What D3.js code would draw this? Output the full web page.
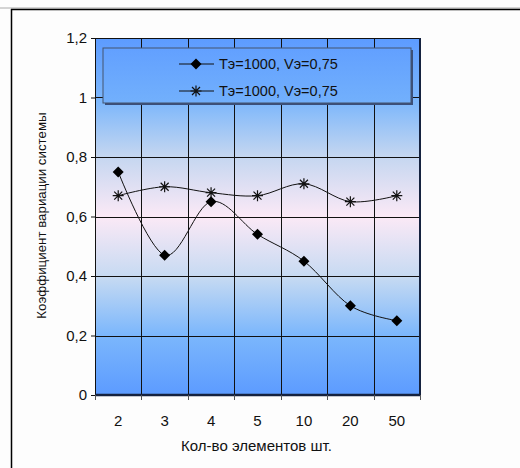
<!DOCTYPE html>
<html>
<head>
<meta charset="utf-8">
<script src="https://cdn.jsdelivr.net/npm/d3@7"></script>
<style>
  body { margin: 0; background: #fdfdfd; }
  text { font-family: "Liberation Sans", Arial, sans-serif; fill: #111; }
</style>
</head>
<body>
<div id="chart"></div>
<script>
// categories and series
const categories = ["2", "3", "4", "5", "10", "20", "50"]
const series1 = [0.75, 0.47, 0.65, 0.54, 0.45, 0.30, 0.25]
const series2 = [0.67, 0.70, 0.68, 0.67, 0.71, 0.65, 0.67]
const seriesNames = ["Тэ=1000, Vэ=0,75", "Тэ=1000, Vэ=0,75"]
const yTicks = [0, 0.2, 0.4, 0.6, 0.8, 1, 1.2]
const xTitle = "Кол-во элементов шт."
const yTitle = "Коэффициент вариации системы"

const W = 520, H = 468
const margin = { left: 95, top: 38, right: 100, bottom: 73 }
const width = W - margin.left - margin.right
const height = H - margin.top - margin.bottom

const svg = d3.select("#chart").append("svg")
  .attr("width", W).attr("height", H)

// outer frame (top and left)
svg.append("line").attr("x1", 0).attr("x2", W).attr("y1", 8).attr("y2", 8)
  .attr("stroke", "#aaa")
svg.append("line").attr("x1", 11).attr("x2", W).attr("y1", 9.5).attr("y2", 9.5)
  .attr("stroke", "#000").attr("stroke-width", 1.5)
svg.append("line").attr("x1", 11.5).attr("x2", 11.5).attr("y1", 9).attr("y2", H)
  .attr("stroke", "#000").attr("stroke-width", 1.5)

const defs = svg.append("defs")
const grad = defs.append("linearGradient").attr("id", "bg")
  .attr("x1", 0).attr("x2", 0).attr("y1", 0).attr("y2", 1)
const stops = [[0, "#5c9bff"], [0.18, "#7db7fb"], [0.33, "#c4d6f0"], [0.5, "#fbe9f6"], [0.67, "#c6daf2"], [0.83, "#7cb7fc"], [1, "#5c9bff"]]
stops.forEach(s => grad.append("stop").attr("offset", s[0]).attr("stop-color", s[1]))

const lgrad = defs.append("linearGradient").attr("id", "lg")
  .attr("x1", 0).attr("x2", 0).attr("y1", 0).attr("y2", 1)
lgrad.append("stop").attr("offset", 0).attr("stop-color", "#62a0ff")
lgrad.append("stop").attr("offset", 1).attr("stop-color", "#72b0fc")

const g = svg.append("g").attr("transform", `translate(${margin.left},${margin.top})`)

const x = d3.scaleBand().domain(categories).range([0, width])
const y = d3.scaleLinear().domain([0, 1.2]).range([height, 0])

g.append("rect").attr("width", width).attr("height", height).attr("fill", "url(#bg)")

// gridlines
g.selectAll(".hgrid").data(yTicks.slice(1)).enter().append("line")
  .attr("x1", 0).attr("x2", width)
  .attr("y1", d => Math.round(y(d)) + 0.5).attr("y2", d => Math.round(y(d)) + 0.5)
  .attr("stroke", "#111").attr("stroke-width", 1)
g.selectAll(".vgrid").data(categories.slice(1)).enter().append("line")
  .attr("x1", d => Math.round(x(d)) + 0.5).attr("x2", d => Math.round(x(d)) + 0.5)
  .attr("y1", 0).attr("y2", height)
  .attr("stroke", "#111").attr("stroke-width", 1)

// plot border
g.append("line").attr("x1", width).attr("x2", width).attr("y1", 0).attr("y2", height)
  .attr("stroke", "#15223f").attr("stroke-width", 2)

// axes
const yAxis = g.append("g").call(d3.axisLeft(y).tickValues(yTicks).tickSize(4)
  .tickFormat(d => String(d).replace(".", ",")))
yAxis.select(".domain").attr("stroke", "#111")
yAxis.selectAll(".tick line").attr("stroke", "#111")
yAxis.selectAll("text").attr("font-size", 15).attr("x", -8)
  .style("font-family", "Liberation Sans, Arial, sans-serif")

const xAxis = g.append("g").attr("transform", `translate(0,${height})`)
  .call(d3.axisBottom(x).tickSize(0).tickPadding(20))
xAxis.select(".domain").remove()
xAxis.selectAll("text").attr("font-size", 15)
  .style("font-family", "Liberation Sans, Arial, sans-serif")
g.append("line").attr("x1", 0).attr("x2", width).attr("y1", height).attr("y2", height)
  .attr("stroke", "#15223f").attr("stroke-width", 2.5)
g.selectAll(".xtick").data(categories.concat(["end"])).enter().append("line")
  .attr("x1", (d, i) => Math.round(i * x.bandwidth()) + 0.5)
  .attr("x2", (d, i) => Math.round(i * x.bandwidth()) + 0.5)
  .attr("y1", height).attr("y2", height + 5)
  .attr("stroke", "#555")

// axis titles
svg.append("text").attr("x", margin.left + width / 2 - 1).attr("y", 451)
  .attr("text-anchor", "middle").attr("font-size", 15).text(xTitle)
svg.append("text").attr("transform", `translate(46,${margin.top + height / 2 - 1}) rotate(-90)`)
  .attr("text-anchor", "middle").attr("font-size", 13.3).text(yTitle)

// lines
const line = d3.line()
  .x((d, i) => x(categories[i]) + x.bandwidth() / 2)
  .y(d => y(d))
  .curve(d3.curveCatmullRom.alpha(0))

g.append("path").datum(series1).attr("d", line)
  .attr("fill", "none").attr("stroke", "#111").attr("stroke-width", 1)
g.append("path").datum(series2).attr("d", line)
  .attr("fill", "none").attr("stroke", "#111").attr("stroke-width", 1)

const diamond = "M0,-5.5L5.5,0L0,5.5L-5.5,0Z"
function star(sel) {
  sel.append("path").attr("d", "M-5.5,0H5.5M0,-5.5V5.5M-4,-4L4,4M-4,4L4,-4")
    .attr("stroke", "#111").attr("stroke-width", 1.2).attr("fill", "none")
}

g.selectAll(".m1").data(series1).enter().append("path")
  .attr("transform", (d, i) => `translate(${x(categories[i]) + x.bandwidth() / 2},${y(d)})`)
  .attr("d", diamond).attr("fill", "#000")
g.selectAll(".m2").data(series2).enter().append("g")
  .attr("transform", (d, i) => `translate(${x(categories[i]) + x.bandwidth() / 2},${y(d)})`)
  .call(star)

// legend
const lg = svg.append("g").attr("transform", "translate(103,48)")
lg.append("rect").attr("x", 2).attr("y", 2).attr("width", 308).attr("height", 55).attr("fill", "#3a4f7a")
lg.append("rect").attr("width", 308).attr("height", 55).attr("fill", "url(#lg)")
  .attr("stroke", "#44546e").attr("stroke-width", 1)
const rows = lg.selectAll(".row").data(seriesNames).enter().append("g")
  .attr("transform", (d, i) => `translate(0,${16 + i * 27})`)
rows.append("line").attr("x1", 76).attr("x2", 111).attr("stroke", "#111")
rows.filter((d, i) => i === 0).append("path").attr("transform", "translate(93,0)")
  .attr("d", diamond).attr("fill", "#000")
rows.filter((d, i) => i === 1).append("g").attr("transform", "translate(93,0)").call(star)
rows.append("text").attr("x", 116).attr("y", 5).attr("font-size", 14.5).text(d => d)
</script>
</body>
</html>
